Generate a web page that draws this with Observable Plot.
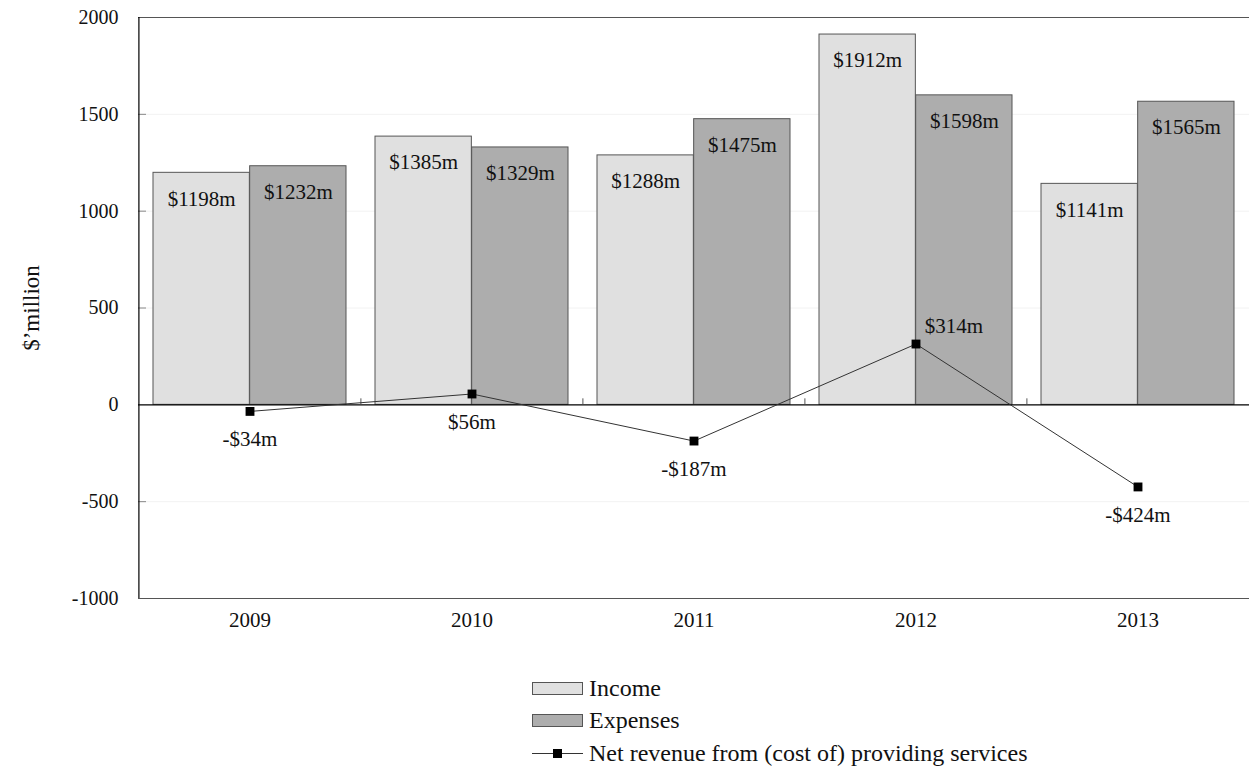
<!DOCTYPE html>
<html>
<head>
<meta charset="utf-8">
<script src="https://cdn.jsdelivr.net/npm/d3@7"></script>
<script src="https://cdn.jsdelivr.net/npm/@observablehq/plot@0.6"></script>
<style>
  html, body { margin: 0; padding: 0; background: #fff; }
  #wrap { position: relative; width: 1249px; height: 767px; font-family: "Liberation Serif", "Times New Roman", serif; }
  #legend { position: absolute; left: 532px; top: 672px; font-size: 24px; color: #111; }
  .row { display: flex; align-items: center; height: 32.5px; }
  .sw { width: 49px; height: 11px; border: 1px solid #555; margin-right: 6px; box-sizing: content-box; }
  .ln { width: 51px; height: 11px; margin-right: 6px; position: relative; }
  .ln::before { content: ""; position: absolute; left: 0; right: 0; top: 5px; border-top: 1px solid #333; }
  .ln::after { content: ""; position: absolute; left: 21px; top: 1px; width: 9px; height: 9px; background: #000; }
</style>
</head>
<body>
<div id="wrap">
  <div id="chart"></div>
  <div id="legend">
    <div class="row"><span class="sw" style="background:#e0e0e0"></span>Income</div>
    <div class="row"><span class="sw" style="background:#adadad"></span>Expenses</div>
    <div class="row"><span class="ln"></span>Net revenue from (cost of) providing services</div>
  </div>
</div>
<script>
// Annual figures, $ million
const years = ["2009", "2010", "2011", "2012", "2013"];
const income = [1198, 1385, 1288, 1912, 1141];
const expenses = [1232, 1329, 1475, 1598, 1565];
const net = [-34, 56, -187, 314, -424];
const yTicks = [-1000, -500, 0, 500, 1000, 1500, 2000];
const gridValues = [-500, 500, 1000, 1500];

const W = 1249, H = 660;
const mL = 138, mR = 0, mT = 17, mB = 62;
const padIn = 0.13, padOut = 0.065;
const plotW = W - mL - mR;
const step = plotW / (years.length - padIn + 2 * padOut);
const bw = step * (1 - padIn);
const half = bw / 2;

const incomeRows = years.map((y, i) => ({year: y, value: income[i]}));
const expenseRows = years.map((y, i) => ({year: y, value: expenses[i]}));
const netRows = years.map((y, i) => ({year: y, value: net[i]}));
const fmt = v => (v < 0 ? "-$" + Math.abs(v) : "$" + v) + "m";

const font = "'Liberation Serif', 'Times New Roman', serif";

const chart = Plot.plot({
  width: W,
  height: H,
  marginLeft: mL,
  marginRight: mR,
  marginTop: mT,
  marginBottom: mB,
  style: {fontFamily: font, fontSize: "20px", color: "#111", background: "#fff"},
  x: {type: "band", domain: years, paddingInner: padIn, paddingOuter: padOut, align: 0.5},
  y: {domain: [-1000, 2000]},
  marks: [
    // faint gridlines and frame lines
    Plot.ruleY(gridValues, {stroke: "#f2f2f2", strokeWidth: 1}),
    Plot.ruleY([2000, -1000], {stroke: "#555", strokeWidth: 1}),
    // bars
    Plot.barY(incomeRows, {x: "year", y: "value", insetRight: half, fill: "#e0e0e0", stroke: "#555", strokeWidth: 1}),
    Plot.barY(expenseRows, {x: "year", y: "value", insetLeft: half, fill: "#adadad", stroke: "#555", strokeWidth: 1}),
    // zero line with category separator ticks
    Plot.ruleY([0], {stroke: "#000", strokeWidth: 1.2}),
    Plot.ruleX(years.slice(1), {x: d => d, y1: 0, y2: 0, insetTop: -6, dx: -step / 2, stroke: "#555"}),
    // left axis line and inward ticks
    Plot.tickY(yTicks.filter(v => v !== 0 && v !== 2000 && v !== -1000), {y: d => d, insetRight: plotW - 8, stroke: "#888"}),
    Plot.ruleX([0], {x: () => years[0], y1: -1000, y2: 2000, dx: -(step * padOut) - half, stroke: "#000", strokeWidth: 1.2}),
    Plot.axisY({ticks: yTicks, tickSize: 0, tickPadding: 20, tickFormat: d => String(d), fontSize: 20, label: null}),
    Plot.axisY({ticks: [], tickSize: 0, fontSize: 23,
      label: "$\u2019million", labelAnchor: "center", labelArrow: "none", labelOffset: 116}),
    Plot.axisX({tickSize: 0, tickPadding: 14, fontSize: 21, label: null}),
    // value labels in bars
    Plot.text(incomeRows, {x: "year", y: "value", text: d => fmt(d.value), dx: -half / 2, dy: 26, fontSize: 21, fill: "#111"}),
    Plot.text(expenseRows, {x: "year", y: "value", text: d => fmt(d.value), dx: half / 2, dy: 26, fontSize: 21, fill: "#111"}),
    // net revenue line
    Plot.line(netRows, {x: "year", y: "value", stroke: "#333", strokeWidth: 1}),
    Plot.dot(netRows, {x: "year", y: "value", symbol: "square", r: 5, fill: "#000", stroke: "none"}),
    Plot.text(netRows.filter(d => d.value < 100), {x: "year", y: "value", text: d => fmt(d.value), dy: 28, fontSize: 21, fill: "#111"}),
    Plot.text(netRows.filter(d => d.value >= 100), {x: "year", y: "value", text: d => fmt(d.value), dx: 38, dy: -18, fontSize: 21, fill: "#111"})
  ]
});
document.getElementById("chart").appendChild(chart);
</script>
</body>
</html>
